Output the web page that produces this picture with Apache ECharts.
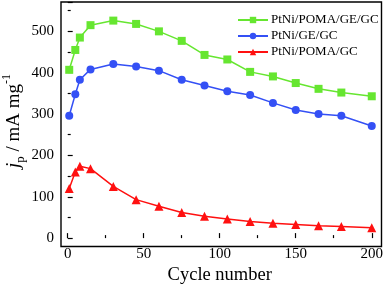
<!DOCTYPE html>
<html><head><meta charset="utf-8">
<script src="https://cdn.jsdelivr.net/npm/echarts@6/dist/echarts.min.js"></script>
<style>html,body{margin:0;padding:0;background:#fff}#c{width:386px;height:290px}</style>
</head><body><div id="c"></div>
<script>
var cycles = [1, 5, 8, 15, 30, 45, 60, 75, 90, 105, 120, 135, 150, 165, 180, 200];
var ptniPomaGeGc = [407, 455, 485, 515, 526, 518, 500, 477, 443, 432, 402, 391, 375, 361, 352, 343];
var ptniGeGc = [296, 348, 383, 408, 421, 415, 405, 383, 369, 355, 346, 327, 310, 300, 296, 271];
var ptniPomaGc = [120, 160, 174, 168, 125, 93, 77, 62, 53, 46, 40, 36, 33, 30, 28, 25];
var seriesNames = ['PtNi/POMA/GE/GC', 'PtNi/GE/GC', 'PtNi/POMA/GC'];
var xTicks = [0, 50, 100, 150, 200];
var yTicks = [0, 100, 200, 300, 400, 500];

function pairs(xs, ys) { return xs.map(function (x, i) { return [x, ys[i]]; }); }
var FONT = '"Liberation Serif", "Times New Roman", serif';
var chart = echarts.init(document.getElementById('c'), null, {renderer: 'canvas'});
chart.setOption({
  animation: false,
  backgroundColor: '#fff',
  grid: [
    {left: 67.7, right: 12.3, top: 2, bottom: 44.5, show: false},
    {left: 61, right: 4.5, top: 2, bottom: 43.5, show: true, borderColor: '#000', borderWidth: 1.4, backgroundColor: 'transparent'}
  ],
  xAxis: [
    {type: 'value', gridIndex: 0, min: 0, max: 200, interval: 50, offset: 1,
     axisLine: {show: false},
     axisTick: {show: true, inside: true, length: 5, lineStyle: {color: '#000', width: 1.2}},
     minorTick: {show: true, splitNumber: 2, length: 3, lineStyle: {color: '#000', width: 1.2}},
     splitLine: {show: false},
     axisLabel: {color: '#000', fontFamily: FONT, fontSize: 15, margin: 7,
       formatter: function (v) { return xTicks.indexOf(v) >= 0 ? String(v) : ''; }},
     name: 'Cycle number', nameLocation: 'middle', nameGap: 19,
     nameTextStyle: {color: '#000', fontFamily: FONT, fontSize: 18.5}},
    {type: 'value', gridIndex: 1, show: false, min: 0, max: 1}
  ],
  yAxis: [
    {type: 'value', gridIndex: 0, min: 0, max: 571, interval: 100, offset: 6.7,
     axisLine: {show: false},
     axisTick: {show: true, inside: true, length: 5, lineStyle: {color: '#000', width: 1.2}},
     minorTick: {show: true, splitNumber: 2, length: 3, lineStyle: {color: '#000', width: 1.2}},
     splitLine: {show: false},
     axisLabel: {color: '#000', fontFamily: FONT, fontSize: 15, margin: 7,
       formatter: function (v) { return yTicks.indexOf(v) >= 0 ? String(v) : ''; }}},
    {type: 'value', gridIndex: 1, show: false, min: 0, max: 1}
  ],
  legend: {
    orient: 'vertical', left: 237, top: 12, padding: 0, itemWidth: 30, itemHeight: 8, itemGap: 0,
    data: seriesNames,
    textStyle: {color: '#000', fontFamily: FONT, fontSize: 13, lineHeight: 16, padding: [0, 0, 0, -2]}
  },
  graphic: [{
    type: 'text', x: 14, y: 121, rotation: Math.PI / 2,
    style: {
      text: '{j|j}{p|p}{m| / mA mg}{s|-1}',
      textAlign: 'center', textVerticalAlign: 'middle',
      rich: {
        j: {fontFamily: FONT, fontStyle: 'italic', fontSize: 19, lineHeight: 26, verticalAlign: 'middle', fill: '#000'},
        p: {fontFamily: FONT, fontSize: 13, lineHeight: 26, verticalAlign: 'bottom', fill: '#000'},
        m: {fontFamily: FONT, fontSize: 19, lineHeight: 26, verticalAlign: 'middle', fill: '#000'},
        s: {fontFamily: FONT, fontSize: 12, lineHeight: 26, verticalAlign: 'top', fill: '#000'}
      }
    }
  }],
  series: [
    {name: seriesNames[0], type: 'line', xAxisIndex: 0, yAxisIndex: 0, data: pairs(cycles, ptniPomaGeGc),
     symbol: 'rect', symbolSize: 8, color: '#66e630', lineStyle: {width: 1.5}},
    {name: seriesNames[1], type: 'line', xAxisIndex: 0, yAxisIndex: 0, data: pairs(cycles, ptniGeGc),
     symbol: 'circle', symbolSize: 8, color: '#3450f5', lineStyle: {width: 1.5}},
    {name: seriesNames[2], type: 'line', xAxisIndex: 0, yAxisIndex: 0, data: pairs(cycles, ptniPomaGc),
     symbol: 'triangle', symbolSize: 9, color: '#ff1010', lineStyle: {width: 1.5}}
  ]
});
</script></body></html>
